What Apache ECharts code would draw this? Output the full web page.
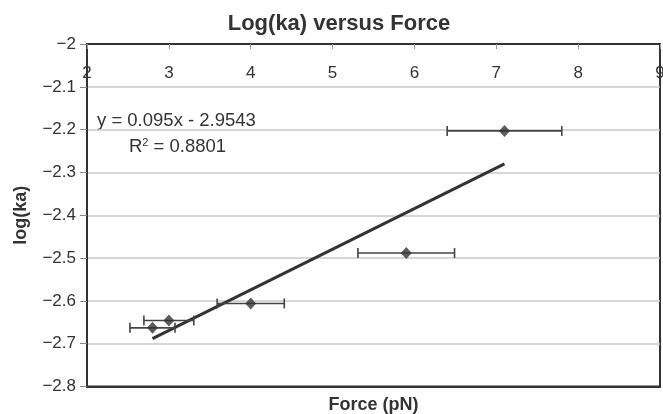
<!DOCTYPE html>
<html>
<head>
<meta charset="utf-8">
<script src="https://cdn.jsdelivr.net/npm/echarts@6/dist/echarts.min.js"></script>
<style>html,body{margin:0;padding:0;background:#fff}#c{width:663px;height:414px}</style>
</head>
<body>
<div id="c"></div>
<script>
// Data
const force = [2.8, 3.0, 4.0, 5.9, 7.1];
const logKa = [-2.663, -2.646, -2.606, -2.488, -2.203];
const forceErr = [0.275, 0.305, 0.41, 0.59, 0.70];
const trendX = [2.8, 7.1];
const trendY = [-2.6883, -2.2798];
const xTicks = [2, 3, 4, 5, 6, 7, 8, 9];
const yTicks = [-2, -2.1, -2.2, -2.3, -2.4, -2.5, -2.6, -2.7, -2.8];
const titleText = 'Log(ka) versus Force';
const eqText = 'y = 0.095x - 2.9543';
const r2Value = '0.8801';

const FONT = '"Liberation Sans", Arial, sans-serif';
const dark = '#333333';

const pts = force.map((f, i) => [f, logKa[i]]);
const errData = force.map((f, i) => [f - forceErr[i], f + forceErr[i], logKa[i]]);
const trend = trendX.map((x, i) => [x, trendY[i]]);

const chart = echarts.init(document.getElementById('c'), null, {renderer: 'canvas'});
chart.setOption({
  animation: false,
  backgroundColor: '#ffffff',
  title: {
    text: titleText, left: 334, top: 8, textAlign: 'center',
    textStyle: {fontFamily: FONT, fontWeight: 'bold', fontSize: 22, color: dark}
  },
  grid: {left: 87, right: 3, top: 44, bottom: 27.5, show: true, borderColor: dark, borderWidth: 2,
    backgroundColor: 'transparent', containLabel: false, outerBoundsMode: 'none'},
  xAxis: [{
    type: 'value', position: 'top', min: xTicks[0], max: xTicks[xTicks.length - 1], interval: 1,
    axisLine: {show: true, onZero: false, lineStyle: {color: dark, width: 2}},
    axisTick: {show: true, inside: true, length: 5, lineStyle: {color: '#999'}},
    axisLabel: {inside: true, margin: 21, fontFamily: FONT, fontSize: 17, color: dark,
      hideOverlap: false, formatter: v => String(v)},
    splitLine: {show: false}
  }, {
    type: 'value', position: 'bottom', min: xTicks[0], max: xTicks[xTicks.length - 1],
    name: 'Force (pN)', nameLocation: 'middle', nameGap: 10,
    nameTextStyle: {fontFamily: FONT, fontWeight: 'bold', fontSize: 18, color: dark, verticalAlign: 'top'},
    axisLine: {show: true, lineStyle: {color: dark, width: 2}},
    axisTick: {show: false}, axisLabel: {show: false}, splitLine: {show: false}
  }],
  yAxis: {
    type: 'value', min: yTicks[yTicks.length - 1], max: yTicks[0], interval: 0.1,
    name: 'log(ka)', nameLocation: 'middle', nameGap: 57, nameRotate: 90,
    nameTextStyle: {fontFamily: FONT, fontWeight: 'bold', fontSize: 18, color: dark},
    axisLine: {show: true, onZero: false, lineStyle: {color: dark, width: 2}},
    axisTick: {show: true, length: 7, lineStyle: {color: '#888'}},
    axisLabel: {margin: 11, fontFamily: FONT, fontSize: 17, color: dark, hideOverlap: false,
      formatter: v => (v < 0 ? '\u2212' : '') + String(Math.abs(Math.round(v * 10) / 10))},
    splitLine: {show: true, lineStyle: {color: '#c8c8c8', width: 1.5}}
  },
  graphic: [
    {type: 'text', left: 97, top: 111, style: {text: eqText, font: '18.5px ' + FONT, fill: dark}},
    {type: 'text', left: 129, top: 137, style: {
      text: 'R{sup|2} = ' + r2Value,
      rich: {sup: {fontSize: 11, verticalAlign: 'top', padding: [0, 0, 9, 0], fill: dark, fontFamily: FONT}},
      font: '18.5px ' + FONT, fill: dark}}
  ],
  series: [
    {
      type: 'line', data: trend, xAxisIndex: 0, symbol: 'none',
      lineStyle: {color: dark, width: 3}, z: 3
    },
    {
      type: 'custom', xAxisIndex: 0, data: errData, z: 4,
      renderItem: function (params, api) {
        const a = api.coord([api.value(0), api.value(2)]);
        const b = api.coord([api.value(1), api.value(2)]);
        const h = 5;
        const st = {stroke: '#444', lineWidth: 1.6};
        return {type: 'group', children: [
          {type: 'line', shape: {x1: a[0], y1: a[1], x2: b[0], y2: b[1]}, style: st},
          {type: 'line', shape: {x1: a[0], y1: a[1] - h, x2: a[0], y2: a[1] + h}, style: st},
          {type: 'line', shape: {x1: b[0], y1: b[1] - h, x2: b[0], y2: b[1] + h}, style: st}
        ]};
      }
    },
    {
      type: 'scatter', data: pts, xAxisIndex: 0, symbol: 'diamond', symbolSize: [11, 12],
      itemStyle: {color: dark}, z: 5
    }
  ]
});
</script>
</body>
</html>
